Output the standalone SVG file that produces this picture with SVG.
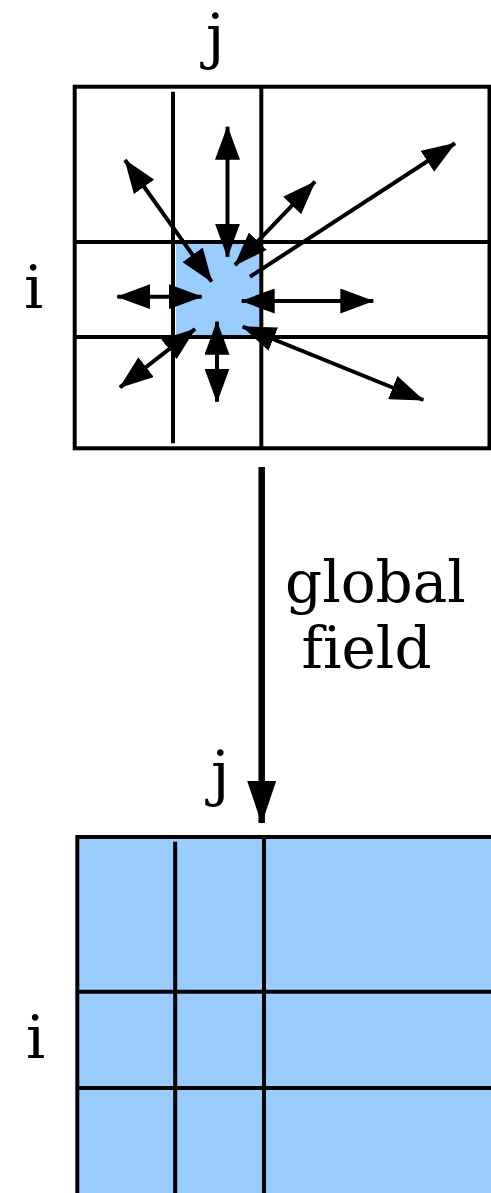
<svg xmlns="http://www.w3.org/2000/svg" width="491" height="1193" viewBox="0 0 491 1193">
<style>
.grid{stroke:#000;stroke-width:4;fill:none}
.arr{stroke:#000;stroke-width:4;fill:none;marker-end:url(#head)}
.arr2{stroke:#000;stroke-width:4;fill:none;marker-start:url(#head);marker-end:url(#head)}
.lbl{font-family:"DejaVu Serif",serif;font-size:60px;fill:#000}
.lbl2{font-family:"DejaVu Serif",serif;font-size:58px;fill:#000;font-variant-ligatures:none}
</style>
<defs>
<marker id="head" markerUnits="userSpaceOnUse" viewBox="0 0 34 25" markerWidth="34" markerHeight="25" refX="33" refY="12.5" orient="auto-start-reverse">
<path d="M0,0 L34,12.5 L0,25 z" fill="#000"/>
</marker>
<marker id="bighead" markerUnits="userSpaceOnUse" viewBox="0 0 43 29" markerWidth="43" markerHeight="29" refX="42" refY="14.5" orient="auto">
<path d="M0,0 L43,14.5 L0,29 z" fill="#000"/>
</marker>
</defs>
<rect width="491" height="1193" fill="#fff"/>

<g id="local-grid">
<rect x="176" y="242" width="85" height="95" fill="#99ccff"/>
<rect class="grid" x="74.7" y="86.7" width="414.8" height="361.6"/>
<line class="grid" x1="173" y1="91.7" x2="173" y2="443.3"/>
<line class="grid" x1="261.3" y1="86.7" x2="261.3" y2="448.3"/>
<line class="grid" x1="74.7" y1="242" x2="489.5" y2="242"/>
<line class="grid" x1="74.7" y1="337" x2="489.5" y2="337"/>
</g>

<g id="label-j-top"><text class="lbl" x="206" y="57">j</text></g>
<g id="label-i-top"><text class="lbl" x="24" y="308">i</text></g>

<g id="connectors">
<line class="arr2" x1="227.5" y1="256.7" x2="227.5" y2="126.7"/>
<line class="arr2" x1="211.7" y1="281.7" x2="125" y2="160"/>
<line class="arr2" x1="235" y1="265" x2="315" y2="181.7"/>
<line class="arr" x1="250" y1="276.7" x2="455" y2="143.3"/>
<line class="arr2" x1="201.7" y1="296.7" x2="117.3" y2="296.7"/>
<line class="arr2" x1="241.7" y1="301" x2="373.3" y2="301"/>
<line class="arr2" x1="195" y1="329" x2="120" y2="387.3"/>
<line class="arr2" x1="217" y1="321.7" x2="217" y2="401.7"/>
<line class="arr2" x1="242.7" y1="326.7" x2="423.3" y2="400"/>
<line stroke="#000" stroke-width="6.5" x1="261.7" y1="467" x2="261.7" y2="823" marker-end="url(#bighead)"/>
</g>

<g id="label-global-field">
<text class="lbl2" x="285" y="601.7">global</text>
<text class="lbl2" x="301.5" y="668.3">field</text>
</g>

<g id="label-j-bottom"><text class="lbl" x="211" y="794">j</text></g>
<g id="label-i-bottom"><text class="lbl" x="26" y="1058.3">i</text></g>

<g id="global-grid">
<rect x="77.3" y="837" width="420" height="370" fill="#99ccff" stroke="#000" stroke-width="4"/>
<line class="grid" x1="175.2" y1="841.7" x2="175.2" y2="1200"/>
<line class="grid" x1="264" y1="837" x2="264" y2="1200"/>
<line class="grid" x1="77.3" y1="991.7" x2="495" y2="991.7"/>
<line class="grid" x1="77.3" y1="1088" x2="495" y2="1088"/>
</g>
</svg>
